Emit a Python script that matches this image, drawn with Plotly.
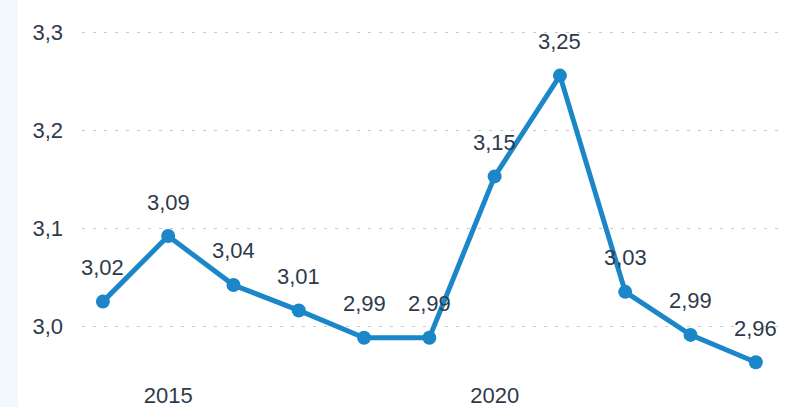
import plotly.graph_objects as go

years = [2014, 2015, 2016, 2017, 2018, 2019, 2020, 2021, 2022, 2023, 2024]
values = [3.025, 3.092, 3.042, 3.016, 2.988, 2.988, 3.153, 3.256, 3.035, 2.991, 2.963]
labels = ["3,02", "3,09", "3,04", "3,01", "2,99", "2,99", "3,15", "3,25", "3,03", "2,99", "2,96"]
y_ticks = [3.0, 3.1, 3.2, 3.3]
y_tick_text = ["3,0", "3,1", "3,2", "3,3"]
x_ticks = [2015, 2020]

FONT = "Liberation Sans, Arial, Helvetica"
TEXT_COLOR = "#2f3b4b"
BLUE = "#1b87c9"
W, H = 806, 407
ML, MR = 82, 28

fig = go.Figure()
fig.add_trace(go.Scatter(
    x=years, y=values, mode="lines+markers",
    line=dict(color=BLUE, width=5),
    marker=dict(color=BLUE, size=14),
    cliponaxis=False, hoverinfo="skip",
))
for x, y, t in zip(years, values, labels):
    fig.add_annotation(x=x, y=y, text=t, showarrow=False, yshift=34,
                       font=dict(family=FONT, size=22, color=TEXT_COLOR))

plot_w = W - ML - MR
fig.add_shape(type="rect", xref="paper", yref="paper",
              x0=-ML / plot_w, x1=(18 - ML) / plot_w, y0=-1, y1=2,
              fillcolor="#f2f8fb", line=dict(width=0), layer="below")

fig.update_layout(
    width=W, height=H,
    margin=dict(l=ML, r=MR, t=13, b=32, autoexpand=False),
    paper_bgcolor="white", plot_bgcolor="white",
    showlegend=False,
    font=dict(family=FONT, size=22, color=TEXT_COLOR),
    xaxis=dict(range=[2013.68, 2024.34], tickvals=x_ticks, ticktext=[str(v) for v in x_ticks],
               showgrid=False, zeroline=False, showline=False, ticks="",
               ticklabelstandoff=5, automargin=False),
    yaxis=dict(range=[2.95, 3.32], tickvals=y_ticks, ticktext=y_tick_text,
               showgrid=True, gridcolor="#c8c8c8", gridwidth=1, griddash="3px,8px",
               zeroline=False, showline=False, ticks="", ticklabelstandoff=18,
               automargin=False),
)
fig.write_html("out.html", config={"displayModeBar": False},
               post_script="document.body.style.margin='0';document.body.style.overflow='hidden';")
